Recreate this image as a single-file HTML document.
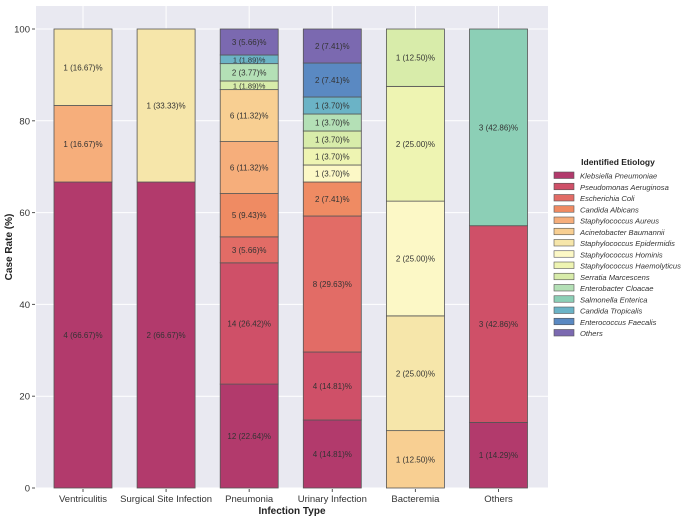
<!DOCTYPE html>
<html><head><meta charset="utf-8"><style>
body{margin:0;background:#fff}
svg{display:block;font-family:"Liberation Sans",sans-serif}
</style></head><body>
<svg id="chart" width="685" height="519" viewBox="0 0 685 519">
<rect x="36" y="6" width="512" height="482" fill="#e9e9f1"/>
<g id="grid"></g><g id="bars"></g><g id="axes"></g><g id="legend"></g>
</svg>
<script>
const categories=["Ventriculitis","Surgical Site Infection","Pneumonia","Urinary Infection","Bacteremia","Others"];
const species=["Klebsiella Pneumoniae","Pseudomonas Aeruginosa","Escherichia Coli","Candida Albicans","Staphylococcus Aureus","Acinetobacter Baumannii","Staphylococcus Epidermidis","Staphylococcus Hominis","Staphylococcus Haemolyticus","Serratia Marcescens","Enterobacter Cloacae","Salmonella Enterica","Candida Tropicalis","Enterococcus Faecalis","Others"];
const colors=["#b23a6c","#cf5068","#e26c66","#ef8b63","#f6ae7b","#f8cf92","#f6e6aa","#fcf8c6","#eef4b2","#d8ecaa","#b4e0b6","#8ccfb6","#6bb3c6","#5a89c2","#7b69b0"];
// counts per category, indexed by species
const ventriculitis=[4,0,0,0,1,0,1,0,0,0,0,0,0,0,0];
const surgicalSite=[2,0,0,0,0,0,1,0,0,0,0,0,0,0,0];
const pneumonia=[12,14,3,5,6,6,0,0,0,1,2,0,1,0,3];
const urinary=[4,4,8,2,0,0,0,1,1,1,1,0,1,2,2];
const bacteremia=[0,0,0,0,0,1,2,2,2,1,0,0,0,0,0];
const othersCat=[1,3,0,0,0,0,0,0,0,0,0,3,0,0,0];
const counts=[ventriculitis,surgicalSite,pneumonia,urinary,bacteremia,othersCat];
const yTicks=[0,20,40,60,80,100];

const NS="http://www.w3.org/2000/svg";
function mk(tag,attrs,parent,text){const e=document.createElementNS(NS,tag);for(const k in attrs)e.setAttribute(k,attrs[k]);if(text!==undefined)e.textContent=text;parent.appendChild(e);return e;}
const y=v=>488-v*4.59;
const x=i=>83+i*83.1;
const bw=58;
const grid=document.getElementById('grid'),bars=document.getElementById('bars'),axes=document.getElementById('axes'),legend=document.getElementById('legend');
for(const t of yTicks){
 const l=mk('line',{x1:36,x2:548,y1:y(t),y2:y(t),stroke:'#fff','stroke-width':1},grid);
 
 
 mk('line',{x1:32,x2:35,y1:y(t),y2:y(t),stroke:'#555'},axes);
 const tx=mk('text',{x:30,y:y(t)+3.5,'text-anchor':'end','font-size':9.5,fill:'#333'},axes,String(t));
 
 
}
categories.forEach((c,i)=>{
 const l=mk('line',{x1:x(i),x2:x(i),y1:6,y2:488,stroke:'#fff','stroke-width':1},grid);
 
 
 mk('line',{x1:x(i),x2:x(i),y1:489,y2:492,stroke:'#555'},axes);
 const tx=mk('text',{x:x(i),y:502,'text-anchor':'middle','font-size':9.5,fill:'#333'},axes,c);
 
 
 const arr=counts[i];const total=arr.reduce((a,b)=>a+b,0);let cum=0;
 arr.forEach((n,s)=>{
  if(!n)return;
  const p=n/total*100;
  const r=mk('rect',{x:x(i)-bw/2,y:y(cum+p),width:bw,height:y(cum)-y(cum+p),fill:colors[s],stroke:'#555','stroke-width':0.8},bars);
  
  
  const t=mk('text',{x:x(i),y:(y(cum)+y(cum+p))/2+3,'text-anchor':'middle','font-size':p<3?7.5:8,fill:'#333'},bars,n+' ('+p.toFixed(2)+')%');
  
  
  cum+=p;
 });
});
const yt=mk('text',{x:0,y:0,transform:'translate(12,247) rotate(-90)','text-anchor':'middle','font-size':10,'font-weight':'bold',fill:'#222'},axes,'Case Rate (%)');


const xt=mk('text',{x:292,y:514,'text-anchor':'middle','font-size':10,'font-weight':'bold',fill:'#222'},axes,'Infection Type');


const lt=mk('text',{x:618,y:165,'text-anchor':'middle','font-size':8.5,'font-weight':'bold',fill:'#222'},legend,'Identified Etiology');


species.forEach((s,k)=>{
 const yy=172+k*11.25;
 const g=mk('g',{},legend);
 
 
 mk('rect',{x:554,y:yy,width:20,height:6.5,fill:colors[k],stroke:'#555','stroke-width':0.6},g);
 mk('text',{x:580,y:yy+6.5,'font-size':7.6,'font-style':'italic',fill:'#333'},g,s);
});
</script>
</body></html>
